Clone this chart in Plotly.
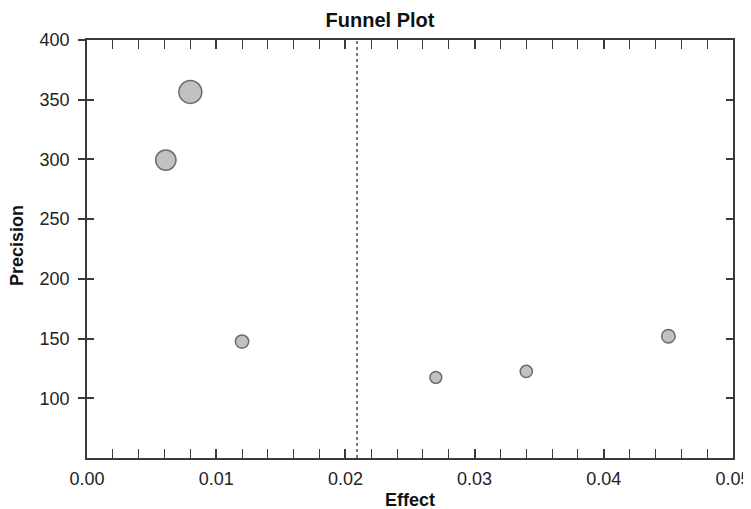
import plotly.graph_objects as go

# Data
effect = [0.0080, 0.0061, 0.0120, 0.0270, 0.0340, 0.0450]
precision = [356.5, 299.5, 147.5, 117.5, 122.5, 152.0]
combined_effect = 0.0209
x_ticks = [0.00, 0.01, 0.02, 0.03, 0.04, 0.05]
y_ticks = [100, 150, 200, 250, 300, 350, 400]

FONT = "Liberation Sans, Arial, sans-serif"
AX = "#3a3a3a"
OFF = 8  # page body margin

W, H = 751, 509
L, T, R, B = 87 - OFF, 40 - OFF, W - (733 - OFF), H - (458 - OFF)
PW, PH = W - L - R, H - T - B

# marker diameter grows with precision (weight)
sizes = [6.5 + 0.046 * p for p in precision]

fig = go.Figure()
fig.add_trace(go.Scatter(
    x=effect, y=precision, mode="markers",
    marker=dict(size=sizes, color="#a8a8a8", line=dict(color="#2e2e2e", width=1.5)),
    showlegend=False, hoverinfo="x+y",
))
fig.add_trace(go.Scatter(x=[None], y=[None], yaxis="y2", showlegend=False))

fig.add_shape(type="line", xref="x", yref="paper", x0=combined_effect, x1=combined_effect,
              y0=0, y1=1, line=dict(color="#222222", width=1.2, dash="dot"))

fig.update_layout(
    width=W, height=H,
    margin=dict(l=L, r=R, t=T, b=B, autoexpand=False),
    paper_bgcolor="white", plot_bgcolor="white",
    font=dict(family=FONT, size=18, color="#222222"),
    title=dict(text="<b>Funnel Plot</b>", font=dict(size=20, color="#111111"),
               x=(380 - 87) / (733 - 87), xref="paper", xanchor="center",
               y=1 - (20 - OFF) / H, yref="container", yanchor="middle"),
    xaxis=dict(range=[0, 0.05], tickvals=x_ticks, tickformat=".2f", automargin=False,
               showline=True, linecolor=AX, linewidth=1.5, mirror="allticks",
               ticks="inside", ticklen=9, tickwidth=1.5, tickcolor=AX,
               ticklabelstandoff=4,
               showgrid=False, zeroline=False,
               minor=dict(dtick=0.002, ticks="inside", ticklen=5, tickwidth=1.2,
                          tickcolor=AX, showgrid=False),
               tickfont=dict(size=18, color="#222222")),
    yaxis=dict(range=[50, 400], tickvals=y_ticks, automargin=False,
               showline=True, linecolor=AX, linewidth=1.5, mirror=True,
               ticks="outside", ticklen=7, tickwidth=1.5, tickcolor=AX,
               ticklabelstandoff=5,
               showgrid=False, zeroline=False,
               tickfont=dict(size=18, color="#222222")),
    yaxis2=dict(range=[50, 400], tickvals=y_ticks, overlaying="y", side="left",
                automargin=False,
                showline=False, mirror="allticks", showticklabels=False,
                ticks="inside", ticklen=7, tickwidth=1.5, tickcolor=AX,
                showgrid=False, zeroline=False),
)

fig.add_annotation(text="<b>Effect</b>", xref="paper", yref="paper",
                   x=0.5, y=-(500 - 458) / PH, yanchor="middle", showarrow=False,
                   font=dict(size=18, color="#111111"))
fig.add_annotation(text="<b>Precision</b>", xref="paper", yref="paper",
                   x=-(87 - 17) / PW, y=(458 - 246) / PH, xanchor="center", yanchor="middle",
                   textangle=-90, showarrow=False,
                   font=dict(size=18, color="#111111"))

fig.write_html("out.html")
